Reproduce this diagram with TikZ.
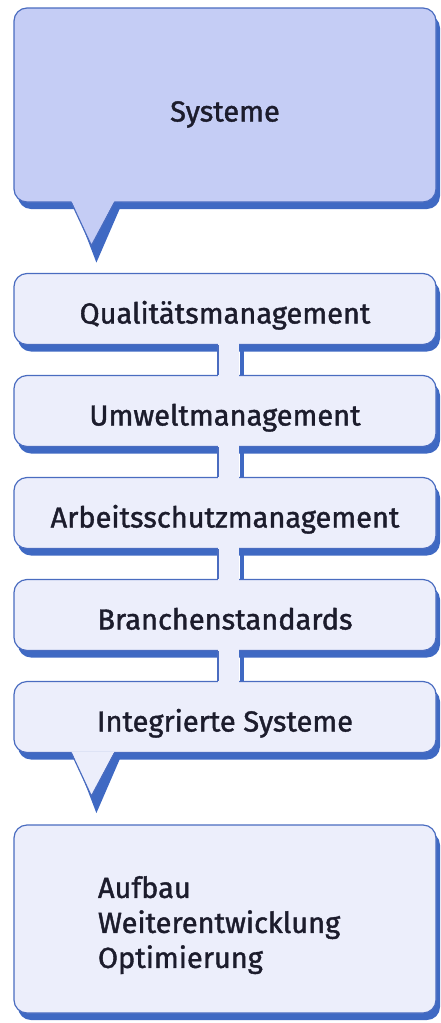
\documentclass[tikz,border=0pt]{standalone}
\usepackage{fontspec}
\setmainfont{Fira Sans}[FakeBold=1.4]
\usepackage{tikz}
\usetikzlibrary{shadows, positioning}
\definecolor{paleblue}{HTML}{ECEEFB}
\definecolor{topblue}{HTML}{C5CDF5}
\definecolor{lineblue}{HTML}{4A6CC0}
\definecolor{shadowblue}{HTML}{3F69C3}
\definecolor{textcol}{HTML}{1C1C2C}
\tikzset{
  box/.style={draw=lineblue, line width=1.2pt, rounded corners=13pt,
    fill=paleblue, minimum width=422pt, minimum height=71pt, text=textcol,
    font=\fontsize{29}{35}\selectfont, text height=29pt, text depth=0pt,
    drop shadow={shadow xshift=4pt, shadow yshift=-7pt, fill=shadowblue, opacity=1}},
  tipline/.style={draw=lineblue, line width=1.2pt, line join=miter}
}
\newcommand{\linkbar}[2]{%
  \fill[shadowblue] ([xshift=15pt]#1.south) rectangle ([xshift=19pt]#2.north);
  \fill[paleblue] ([xshift=-7pt,yshift=2pt]#1.south) rectangle ([xshift=14pt,yshift=-2pt]#2.north);
  \draw[lineblue, line width=1.2pt] ([xshift=-7pt]#1.south) -- ([xshift=-7pt]#2.north);
}
\newcommand{\pointer}[2]{%
  \fill[shadowblue] ([xshift=60pt]#1.south west) -- ([xshift=83pt,yshift=-60pt]#1.south west)
    -- ([xshift=109pt]#1.south west) -- cycle;
  \fill[#2] ([xshift=58pt,yshift=1.5pt]#1.south west) -- ([xshift=78pt,yshift=-43pt]#1.south west)
    -- ([xshift=101pt,yshift=1.5pt]#1.south west) -- cycle;
  \draw[tipline] ([xshift=58pt]#1.south west) -- ([xshift=78pt,yshift=-43pt]#1.south west)
    -- ([xshift=101pt]#1.south west);
}
\begin{document}
\begin{tikzpicture}[x=1pt,y=-1pt]
\useasboundingbox (0,0) rectangle (441,1023);

% boxes
\node[box, fill=topblue, minimum height=194pt, text height=33pt] (sys) at (225,105) {Systeme};
\node[box] (qm) at (225,309) {Qualitätsmanagement};
\node[box] (um) at (225,411) {Umweltmanagement};
\node[box] (am) at (225,513) {Arbeitsschutzmanagement};
\node[box] (bs) at (225,615) {Branchenstandards};
\node[box] (is) at (225,717) {Integrierte Systeme};
\node[box, minimum height=188pt, align=left, text width=254pt, text height=, text depth=]
  (ziel) at (225,919) {\rule{0pt}{34pt}Aufbau\\Weiterentwicklung\\Optimierung};

% links between the boxes
\linkbar{qm}{um}
\linkbar{um}{am}
\linkbar{am}{bs}
\linkbar{bs}{is}

% callout tips
\pointer{sys}{topblue}
\pointer{is}{paleblue}
\end{tikzpicture}
\end{document}
